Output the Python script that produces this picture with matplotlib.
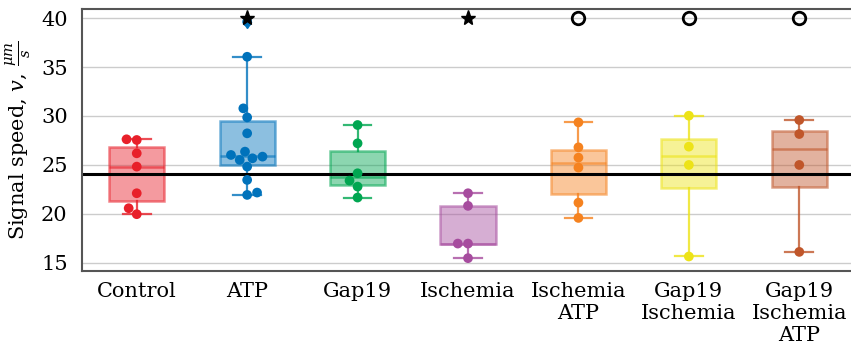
import matplotlib
matplotlib.use("Agg")
import matplotlib.pyplot as plt
import seaborn as sns
import pandas as pd
import numpy as np

# Group names (tick labels)
groups = ["Control", "ATP", "Gap19", "Ischemia", "Ischemia\nATP",
          "Gap19\nIschemia", "Gap19\nIschemia\nATP"]

# Signal speed measurements per group, µm/s
control = [27.62, 27.55, 26.19, 24.83, 22.11, 20.58, 19.97]
atp = [39.63, 36.05, 30.78, 29.86, 28.23, 26.36, 26.02, 25.85, 25.68,
       25.51, 24.83, 23.47, 22.18, 21.94]
gap19 = [29.08, 27.21, 24.15, 23.40, 22.79, 21.67]
ischemia = [22.11, 20.82, 16.97, 16.97, 15.48]
ischemia_atp = [29.35, 26.80, 25.75, 24.73, 21.15, 19.59]
gap19_ischemia = [30.03, 26.87, 25.00, 15.65]
gap19_ischemia_atp = [29.59, 28.16, 25.00, 16.12]

values = [control, atp, gap19, ischemia, ischemia_atp,
          gap19_ischemia, gap19_ischemia_atp]

colors = ["#E8202A", "#0072BB", "#00A651", "#A64C9E", "#F5821F",
          "#EDE317", "#C0562A"]

# Significance markers shown at the top of the plot
star_groups = ["ATP", "Ischemia"]
circle_groups = ["Ischemia\nATP", "Gap19\nIschemia", "Gap19\nIschemia\nATP"]
marker_level = 40

plt.rcParams["font.family"] = "DejaVu Serif"
plt.rcParams["mathtext.fontset"] = "dejavuserif"

fig = plt.figure(figsize=(8.51, 3.5), dpi=100)
ax = fig.add_axes([0.0958, 0.2266, 0.9083, 0.7469])

df = pd.DataFrame({
    "group": np.concatenate([[g] * len(v) for g, v in zip(groups, values)]),
    "value": np.concatenate(values),
})
df["group"] = pd.Categorical(df["group"], categories=groups, ordered=True)

# Boxes
for i, (v, c) in enumerate(zip(values, colors)):
    ax.boxplot(
        v, positions=[i], widths=0.5, patch_artist=True, manage_ticks=False,
        boxprops=dict(facecolor=matplotlib.colors.to_rgba(c, 0.45),
                      edgecolor=matplotlib.colors.to_rgba(c, 0.55), linewidth=1.8),
        whiskerprops=dict(color=c, alpha=0.8, linewidth=1.6),
        capprops=dict(color=c, alpha=0.8, linewidth=1.6),
        medianprops=dict(color=c, alpha=0.6, linewidth=1.8),
        flierprops=dict(marker="d", markerfacecolor=c, markeredgecolor=c,
                        markersize=6),
        zorder=2,
    )

# Reference level: mean of the control group
ax.axhline(np.mean(control), color="black", linewidth=2.2, zorder=2.5)

# Individual measurements
sns.swarmplot(data=df, x="group", y="value", hue="group", palette=colors,
              order=groups, hue_order=groups, size=7, legend=False,
              ax=ax, zorder=3)

# Significance markers
for g in star_groups:
    ax.plot(groups.index(g), marker_level, marker="*", color="black",
            markersize=11, linestyle="none", zorder=4)
for g in circle_groups:
    ax.plot(groups.index(g), marker_level, marker="o", markerfacecolor="none",
            markeredgecolor="black", markeredgewidth=2, markersize=9,
            linestyle="none", zorder=4)

ax.set_xlim(-0.5, len(groups) - 0.5)
ax.set_ylim(14.2, 40.9)
ax.set_yticks([15, 20, 25, 30, 35, 40])
ax.set_xticks(range(len(groups)))
ax.set_xticklabels(groups, fontsize=15)
ax.tick_params(axis="y", labelsize=15, length=0, pad=10)
ax.tick_params(axis="x", length=0, pad=8)
ax.set_xlabel("")
ax.set_ylabel(r"Signal speed, $v$, $\frac{\mu m}{s}$", fontsize=15, labelpad=6)

ax.grid(axis="y", color="#cccccc", linewidth=1.0)
ax.set_axisbelow(True)
for s in ax.spines.values():
    s.set_color("#555555")
    s.set_linewidth(1.5)

fig.savefig("out.png", dpi=100)
